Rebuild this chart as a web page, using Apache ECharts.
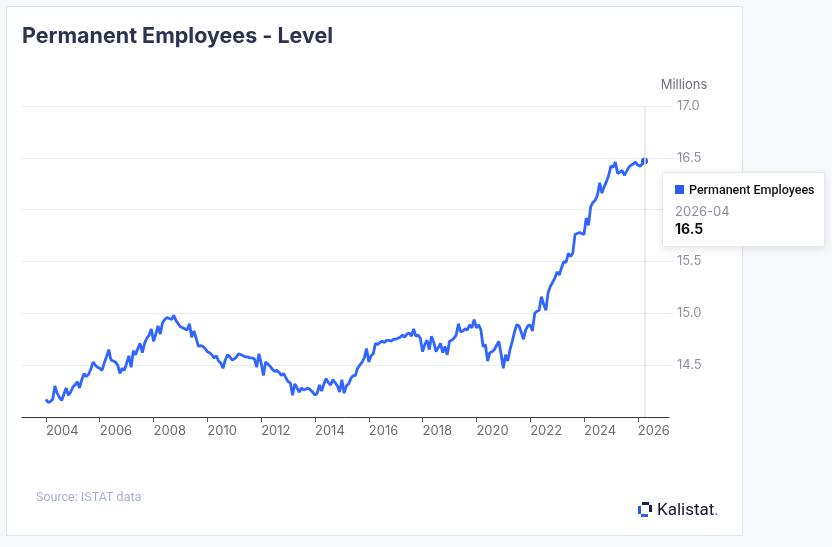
<!DOCTYPE html>
<html><head><meta charset="utf-8">
<script src="https://cdn.jsdelivr.net/npm/echarts@6/dist/echarts.min.js"></script>
<style>
html,body{margin:0;padding:0;width:832px;height:547px;background:#f7f8fb;overflow:hidden;font-family:Inter,Roboto,sans-serif;}
#card{position:absolute;left:6px;top:6px;width:735px;height:528px;background:#fff;border:1px solid #dde4f0;}
#chart{position:absolute;left:0;top:0;width:832px;height:547px;}
</style></head><body>
<div id="card"></div><div id="chart"></div>
<script>
const seriesName = 'Permanent Employees';
const startYear = 2004;
// monthly values (millions), Jan 2004 .. Apr 2026
const y2004 = [14.17,14.14,14.15,14.17,14.30,14.23,14.19,14.16,14.22,14.28,14.21,14.24];
const y2005 = [14.29,14.31,14.34,14.28,14.36,14.42,14.39,14.41,14.46,14.53,14.50,14.48];
const y2006 = [14.47,14.45,14.52,14.58,14.65,14.55,14.54,14.53,14.50,14.42,14.47,14.45];
const y2007 = [14.52,14.59,14.48,14.64,14.60,14.66,14.71,14.62,14.71,14.76,14.79,14.85];
const y2008 = [14.73,14.80,14.88,14.80,14.91,14.94,14.96,14.95,14.94,14.98,14.93,14.90];
const y2009 = [14.87,14.86,14.85,14.84,14.90,14.77,14.83,14.76,14.68,14.69,14.68,14.66];
const y2010 = [14.63,14.62,14.60,14.57,14.59,14.54,14.52,14.47,14.55,14.60,14.58,14.55];
const y2011 = [14.56,14.58,14.61,14.60,14.59,14.58,14.58,14.57,14.57,14.56,14.48,14.61];
const y2012 = [14.52,14.40,14.53,14.51,14.49,14.46,14.44,14.45,14.43,14.40,14.42,14.38];
const y2013 = [14.34,14.33,14.21,14.32,14.28,14.24,14.28,14.26,14.27,14.28,14.26,14.24];
const y2014 = [14.21,14.23,14.31,14.25,14.32,14.37,14.33,14.31,14.36,14.33,14.30,14.24];
const y2015 = [14.36,14.23,14.30,14.32,14.37,14.40,14.40,14.47,14.50,14.53,14.57,14.66];
const y2016 = [14.53,14.59,14.61,14.71,14.70,14.72,14.73,14.72,14.74,14.74,14.73,14.75];
const y2017 = [14.75,14.76,14.77,14.79,14.77,14.80,14.81,14.78,14.85,14.78,14.79,14.76];
const y2018 = [14.63,14.70,14.74,14.65,14.78,14.72,14.63,14.67,14.71,14.62,14.68,14.60];
const y2019 = [14.73,14.74,14.76,14.79,14.90,14.82,14.83,14.85,14.84,14.89,14.86,14.94];
const y2020 = [14.86,14.89,14.84,14.68,14.70,14.54,14.62,14.63,14.65,14.69,14.73,14.61];
const y2021 = [14.47,14.60,14.54,14.65,14.73,14.82,14.89,14.88,14.82,14.75,14.84,14.88];
const y2022 = [14.89,14.83,15.00,15.02,15.03,15.16,15.09,15.03,15.20,15.26,15.30,15.34];
const y2023 = [15.40,15.37,15.44,15.50,15.49,15.58,15.55,15.58,15.76,15.77,15.78,15.77];
const y2024 = [15.76,15.92,15.85,16.03,16.07,16.09,16.14,16.26,16.16,16.22,16.27,16.33];
const y2025 = [16.42,16.41,16.46,16.35,16.36,16.38,16.33,16.37,16.41,16.43,16.44,16.46];
const y2026 = [16.43,16.42,16.44,16.47];
const xTickYears = [2004,2006,2008,2010,2012,2014,2016,2018,2020,2022,2024,2026];

const values = [].concat(y2004,y2005,y2006,y2007,y2008,y2009,y2010,y2011,y2012,y2013,y2014,y2015,y2016,y2017,y2018,y2019,y2020,y2021,y2022,y2023,y2024,y2025,y2026);
const dateLabels = values.map((v,i)=>{const y=startYear+Math.floor(i/12);const m=i%12+1;return y+'-'+(m<10?'0':'')+m;});
const points = values.map((v,i)=>[startYear + i/12, v]);
const last = values.length-1;
const lineColor = '#2c5ce8';

const chart = echarts.init(document.getElementById('chart'), null, {renderer:'canvas'});
chart.setOption({
  animation:false,
  backgroundColor:'transparent',
  textStyle:{fontFamily:'Inter, Roboto, sans-serif'},
  grid:{left:22,right:163,top:106,bottom:130,containLabel:false},
  xAxis:{
    type:'value', min:2003.11, max:2027.16,
    axisLine:{show:true,lineStyle:{color:'#333',width:1}},
    axisTick:{show:true,length:5,lineStyle:{color:'#555'},customValues:xTickYears},
    axisLabel:{color:'#6b6b6b',fontSize:13,align:'left',margin:8,customValues:xTickYears,formatter:v=>String(Math.round(v))},
    splitLine:{show:false}
  },
  yAxis:{
    type:'value', position:'right', min:14, max:17, interval:0.5,
    name:'Millions', nameLocation:'end', nameGap:14,
    nameTextStyle:{color:'#6b6f7a',fontSize:13,padding:[0,0,0,30]},
    axisLine:{show:false},
    axisTick:{show:true,length:4,lineStyle:{color:'#e3e3e3'}},
    axisLabel:{color:'#8e929e',fontSize:13,margin:8,showMinLabel:false,formatter:v=>v.toFixed(1)},
    splitLine:{show:true,lineStyle:{color:'#ececec',width:1}}
  },
  tooltip:{
    trigger:'axis', alwaysShowContent:true, confine:false,
    position:[662,172],
    axisPointer:{type:'line',lineStyle:{color:'#e6e6e6',width:1.5,type:'solid'},label:{show:false}},
    backgroundColor:'#fff', borderColor:'#e8e8e8', borderWidth:1, padding:[8,12],
    extraCssText:'box-shadow:0 2px 8px rgba(0,0,0,0.10);border-radius:2px;width:137px;',
    formatter:(params)=>{
      const p = params[0]; const i = p.dataIndex;
      return '<div style="font-family:Inter,Roboto,sans-serif;line-height:18px">'+
        '<div style="font-family:Roboto,sans-serif;font-size:12.5px;font-weight:500;color:#111;white-space:nowrap"><span style="display:inline-block;width:9px;height:9px;background:'+lineColor+';margin-right:5px;vertical-align:0px"></span>'+seriesName+'</div>'+
        '<div style="font-size:13px;color:#8a8d99;margin-top:3px">'+dateLabels[i]+'</div>'+
        '<div style="font-size:14px;font-weight:700;color:#111">'+values[i].toFixed(1)+'</div></div>';
    }
  },
  series:[{
    name:seriesName, type:'line', data:points,
    showSymbol:false, symbol:'circle', symbolSize:7,
    itemStyle:{color:lineColor},
    lineStyle:{color:lineColor,width:2.8},
    emphasis:{scale:false,lineStyle:{width:2.8}},
    z:3
  }],
  graphic:[
    {type:'text',left:22,top:26,style:{text:'Permanent Employees - Level',fontSize:21.5,fontWeight:'bold',fill:'#2d3250',fontFamily:'Inter, Roboto, sans-serif'}},
    {type:'text',left:36,top:491,style:{text:'Source: ISTAT data',fontSize:12.5,fill:'#a9b0cc',fontFamily:'Roboto, sans-serif'}},
    {type:'text',left:657,top:502,style:{text:'{a|Kalistat}{b|.}',rich:{a:{fontSize:17,fill:'#14142b',fontFamily:'Roboto, sans-serif'},b:{fontSize:17,fill:'#2c5ce8',fontFamily:'Roboto, sans-serif'}}}},
    {type:'rect',shape:{x:642,y:502,width:7,height:3},style:{fill:'#1b1f4a'}},
    {type:'rect',shape:{x:638,y:506,width:3,height:8},style:{fill:'#2c5ce8'}},
    {type:'rect',shape:{x:649,y:505,width:3,height:7},style:{fill:'#1b1f4a'}},
    {type:'rect',shape:{x:641,y:514,width:7,height:3},style:{fill:'#2c5ce8'}}
  ]
});
chart.dispatchAction({type:'showTip',seriesIndex:0,dataIndex:last});
</script></body></html>
